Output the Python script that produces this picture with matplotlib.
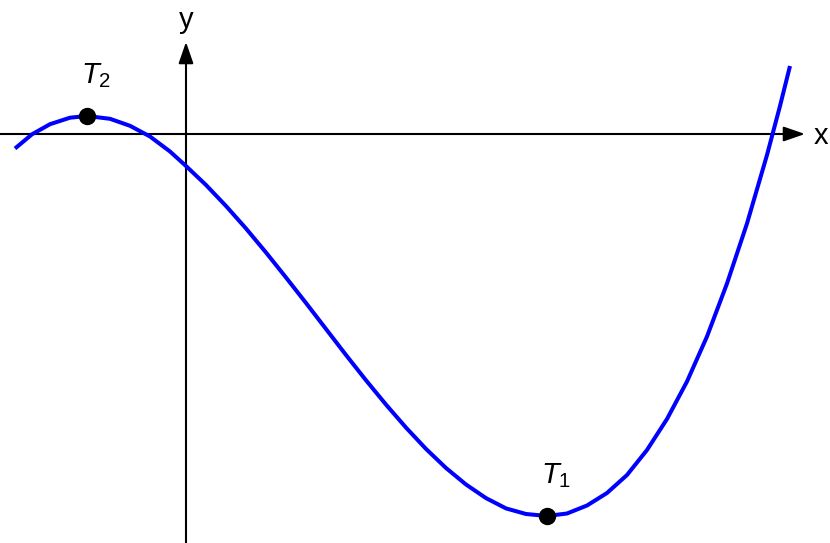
import matplotlib
matplotlib.use("Agg")
import matplotlib.pyplot as plt

# Curve (x right, y up, origin at the axes crossing)
curve_x = [-1.71, -1.54, -1.36, -1.16, -0.99, -0.76, -0.56, -0.36, -0.16, 0.00,
           0.20, 0.40, 0.60, 0.80, 1.00, 1.20, 1.40, 1.60, 1.80, 2.00,
           2.20, 2.40, 2.60, 2.80, 3.00, 3.20, 3.40, 3.61, 3.81, 4.01,
           4.21, 4.41, 4.61, 4.81, 5.01, 5.21, 5.41, 5.61, 5.81, 5.94, 6.04]
curve_y = [-0.145, -0.003, 0.098, 0.163, 0.18, 0.152, 0.082, -0.025, -0.175, -0.32,
           -0.51, -0.72, -0.945, -1.185, -1.435, -1.69, -1.95, -2.21, -2.463, -2.706,
           -2.936, -3.149, -3.34, -3.505, -3.641, -3.744, -3.80, -3.82, -3.795, -3.715,
           -3.59, -3.41, -3.16, -2.85, -2.475, -2.025, -1.495, -0.895, -0.21, 0.28, 0.68]

points_x = [-0.99, 3.61]
points_y = [0.18, -3.82]
point_labels = ["$T_2$", "$T_1$"]

plt.rcParams["font.family"] = ["Liberation Sans", "DejaVu Sans"]
plt.rcParams["mathtext.fontset"] = "custom"
plt.rcParams["mathtext.rm"] = "Liberation Sans"
plt.rcParams["mathtext.it"] = "Liberation Sans:italic"

fig = plt.figure(figsize=(8.3, 5.43), dpi=100)
ax = fig.add_axes([0, 0, 1, 1])
ax.set_xlim(-1.86, 6.44)
ax.set_ylim(-4.09, 1.34)
ax.axis("off")

# Axes with arrow heads
arrow = dict(arrowstyle="-|>,head_length=1.3,head_width=0.45",
             lw=1.5, color="black", shrinkA=0, shrinkB=0)
ax.annotate("", xy=(6.19, 0), xytext=(-1.86, 0), arrowprops=arrow)
ax.annotate("", xy=(0, 0.92), xytext=(0, -4.09), arrowprops=arrow)
ax.text(6.35, -0.02, "x", fontsize=21, ha="center", va="center")
ax.text(0, 1.14, "y", fontsize=21, ha="center", va="center")

# Curve and extreme points
ax.plot(curve_x, curve_y, color="#0000ff", lw=2.9, solid_capstyle="butt",
        solid_joinstyle="round", zorder=3)
ax.plot(points_x, points_y, "o", color="black", markersize=11.5, zorder=4)

for px, py, lab in zip(points_x, points_y, point_labels):
    ax.text(px + 0.09, py + 0.40, lab, fontsize=21, ha="center", va="center")

fig.savefig("out.png", dpi=100)
